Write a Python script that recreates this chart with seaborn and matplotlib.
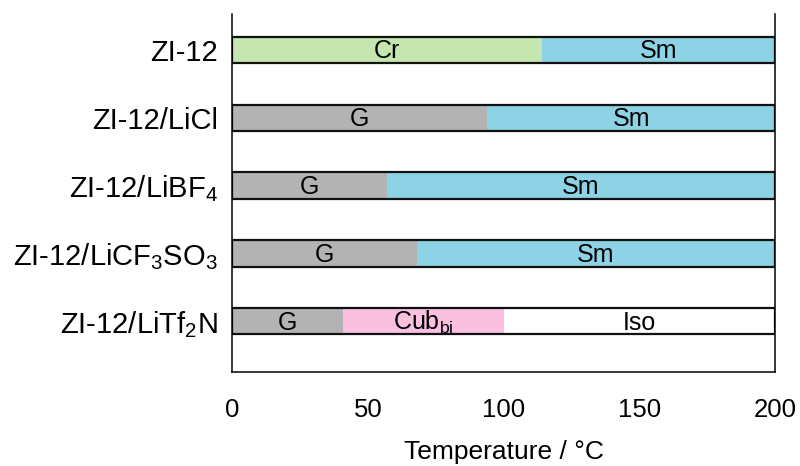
import numpy as np
import pandas as pd
import seaborn as sns
import matplotlib.pyplot as plt

# Samples and phase transition temperatures (°C)
samples = ["ZI-12", "ZI-12/LiCl", "ZI-12/LiBF$_4$",
           "ZI-12/LiCF$_3$SO$_3$", "ZI-12/LiTf$_2$N"]
first_phase = ["Cr", "G", "G", "G", "G"]
first_end = [114, 94, 57, 68, 41]
second_phase = ["Sm", "Sm", "Sm", "Sm", "Cub$_{\\mathrm{bi}}$"]
second_end = [200, 200, 200, 200, 100]
third_phase = ["", "", "", "", "Iso"]
third_end = [200, 200, 200, 200, 200]

phase_colors = {"Cr": "#c5e6ae", "G": "#b3b3b3", "Sm": "#8dd3e5",
                "Cub$_{\\mathrm{bi}}$": "#f9c0e0", "Iso": "#ffffff", "": "#ffffff"}

sns.set_style("white")
plt.rcParams["font.family"] = ["Liberation Sans", "DejaVu Sans"]
plt.rcParams["mathtext.fontset"] = "custom"
plt.rcParams["mathtext.rm"] = "Liberation Sans"
plt.rcParams["mathtext.it"] = "Liberation Sans:italic"

fig = plt.figure(figsize=(8, 4.66), dpi=100)
ax = fig.add_axes([0.29, 0.2017, 0.679, 0.768])

bar_w = 0.39
# draw outer segments first so inner ones sit on top
for phases, ends in [(third_phase, third_end), (second_phase, second_end), (first_phase, first_end)]:
    df = pd.DataFrame({"sample": samples, "end": ends, "phase": phases})
    pal = [phase_colors[p] for p in phases]
    sns.barplot(data=df, x="end", y="sample", hue="sample", palette=pal,
                orient="h", width=bar_w, dodge=False, legend=False,
                linewidth=0, edgecolor="none", saturation=1, ax=ax)

# black outline around whole bar
df_tot = pd.DataFrame({"sample": samples, "end": third_end})
sns.barplot(data=df_tot, x="end", y="sample", orient="h", width=bar_w,
            fill=False, edgecolor="#111111", linewidth=1.6, ax=ax)

# phase labels at segment centres
for i in range(len(samples)):
    segs = [(0, first_end[i], first_phase[i]),
            (first_end[i], second_end[i], second_phase[i]),
            (second_end[i], third_end[i], third_phase[i])]
    for start, stop, name in segs:
        if name and stop > start:
            ax.text((start + stop) / 2, i + 0.02, name, ha="center", va="center",
                    fontsize=18, color="black")

ax.set_xlim(0, 200)
ax.set_ylim(4.75, -0.53)
ax.set_xticks([0, 50, 100, 150, 200])
ax.set_xlabel("Temperature / °C", fontsize=19, labelpad=13, color="black")
ax.set_ylabel("")
ax.tick_params(axis="x", direction="inout", length=17, width=1.1,
               labelsize=18.5, pad=10, colors="black")
ax.tick_params(axis="y", length=0, labelsize=21, pad=10, colors="black")
for side in ["left", "right", "bottom"]:
    ax.spines[side].set_color("black")
    ax.spines[side].set_linewidth(1.1)
ax.spines["top"].set_visible(False)

fig.savefig("out.png", dpi=100)
